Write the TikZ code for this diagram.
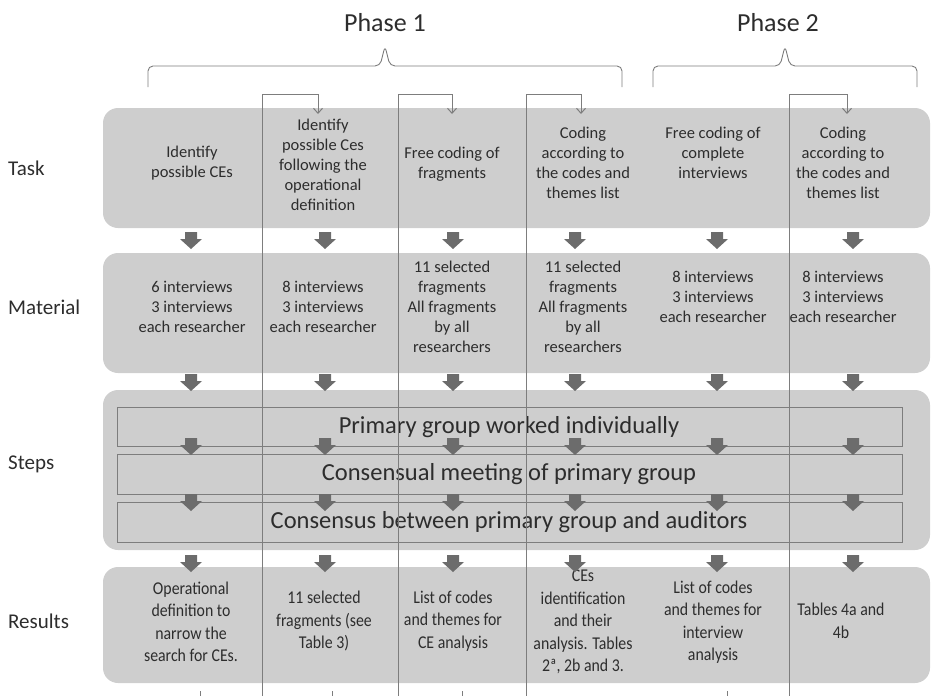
\documentclass[tikz,border=0pt]{standalone}
\usepackage{fontspec}
\setmainfont{Carlito}
\newfontfamily\resfont{Carlito}[FakeStretch=0.88]
\usetikzlibrary{arrows.meta}

\definecolor{boxgray}{RGB}{206,206,206}
\definecolor{arrowgray}{RGB}{108,108,108}
\definecolor{linegray}{RGB}{125,125,125}
\definecolor{txtgray}{RGB}{45,45,45}

\tikzset{
	rowbox/.style={fill=boxgray, rounded corners=15pt},
	stepbox/.style={draw=linegray, line width=0.9pt},
	cell/.style={align=center, text=txtgray, inner sep=0pt, font=\fontsize{16.5}{20}\selectfont},
	rescell/.style={cell, font=\resfont\fontsize{18}{22.5}\selectfont},
	rowlabel/.style={anchor=west, text=txtgray, inner sep=0pt, font=\fontsize{21}{24}\selectfont},
	steplabel/.style={text=txtgray, inner sep=0pt, font=\fontsize{24.5}{28}\selectfont},
	phaselabel/.style={text=txtgray, inner sep=0pt, font=\fontsize{26}{30}\selectfont},
	brace/.style={draw=linegray, line width=0.9pt, rounded corners=5pt},
	loopline/.style={draw=linegray, line width=1pt, -{Straight Barb[length=5pt,width=9pt]}},
	dnarrow/.pic={\fill[arrowgray] (-6,0) -- (6,0) -- (6,7) -- (11,7) -- (0,17) -- (-11,7) -- (-6,7) -- cycle;}
}

\begin{document}
\begin{tikzpicture}[x=1pt,y=-1pt]
	\useasboundingbox (0,0) rectangle (932,696);

	% rows
	\fill[rowbox] (103,108) rectangle (930,228);
	\fill[rowbox] (103,253) rectangle (930,373);
	\fill[rowbox] (103,390) rectangle (930,550);
	\fill[rowbox] (103,567) rectangle (930,683);

	\draw[stepbox] (117,407) rectangle (902,446);
	\draw[stepbox] (117,454) rectangle (902,494);
	\draw[stepbox] (117,502) rectangle (902,542);

	\node[rowlabel] (task) at (8,168) {Task};
	\node[rowlabel] (material) at (8,307) {Material};
	\node[rowlabel] (steps) at (8,464) {Steps};
	\node[rowlabel] (results) at (8,621) {Results};

	\node[phaselabel] (ph1) at (385,23) {Phase 1};
	\node[phaselabel] (ph2) at (778,23) {Phase 2};

	% task
	\node[cell] (t1) at (192,163) {Identify\\possible CEs};
	\node[cell] (t2) at (323,165) {Identify\\possible Ces\\following the\\operational\\definition};
	\node[cell] (t3) at (452,164) {Free coding of\\fragments};
	\node[cell] (t4) at (583,163) {Coding\\according to\\the codes and\\themes list};
	\node[cell] (t5) at (713,153) {Free coding of\\complete\\interviews};
	\node[cell] (t6) at (843,163) {Coding\\according to\\the codes and\\themes list};

	% material
	\node[cell] (m1) at (192,307) {6 interviews\\3 interviews\\each researcher};
	\node[cell] (m2) at (323,307) {8 interviews\\3 interviews\\each researcher};
	\node[cell] (m3) at (452,307) {11 selected\\fragments\\All fragments\\by all\\researchers};
	\node[cell] (m4) at (583,307) {11 selected\\fragments\\All fragments\\by all\\researchers};
	\node[cell] (m5) at (713,297) {8 interviews\\3 interviews\\each researcher};
	\node[cell] (m6) at (843,297) {8 interviews\\3 interviews\\each researcher};

	% steps
	\node[steplabel] (s1) at (509,427) {Primary group worked individually};
	\node[steplabel] (s2) at (509,474) {Consensual meeting of primary group};
	\node[steplabel] (s3) at (509,522) {Consensus between primary group and auditors};

	% results
	\node[rescell] (r1) at (191,622) {Operational\\definition to\\narrow the\\search for CEs.};
	\node[rescell] (r2) at (324,621) {11 selected\\fragments (see\\Table 3)};
	\node[rescell] (r3) at (453,621) {List of codes\\and themes for\\CE analysis};
	\node[rescell] (r4) at (583,622) {CEs\\identification\\and their\\analysis. Tables\\2ª, 2b and 3.};
	\node[rescell] (r5) at (713,622) {List of codes\\and themes for\\interview\\analysis};
	\node[rescell] (r6) at (841,621) {Tables 4a and\\4b};

	\foreach \x in {191,325,453,575,717,853}
		\foreach \y in {232,374,438,494,555}
			\pic at (\x,\y) {dnarrow};

	% feedback loops
	\coordinate (ltop) at (0,94);
	\foreach \a/\b [count=\i] in {262/318, 398/452, 526/581, 789/847} {
		\coordinate (lb\i) at (\a,696);
		\coordinate (lt\i) at (\b,114);
		\draw[loopline] (lb\i) -- (lb\i |- ltop) -| (lt\i);
	}
	\foreach \x in {200,332,462,727}
		\draw[linegray, line width=0.8pt] (\x,691) -- (\x,696);

	% phases
	\draw[brace] (148,87) -- (148,66) -- (380,66) -- (385,46) -- (390,66) -- (622,66) -- (622,87);
	\draw[brace] (653,87) -- (653,66) -- (780,66) -- (785,46) -- (790,66) -- (917,66) -- (917,87);
\end{tikzpicture}
\end{document}
